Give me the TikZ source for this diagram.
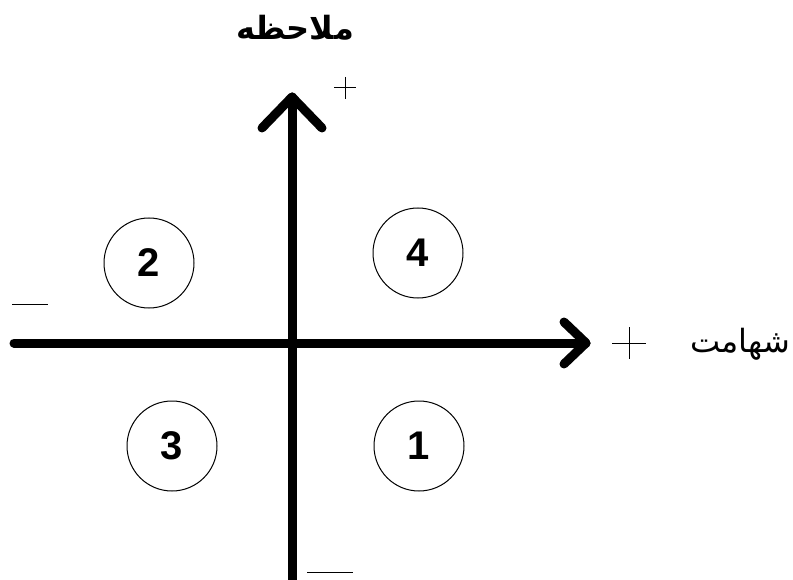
\documentclass[tikz,border=0pt]{standalone}
\usepackage{fontspec}
\setmainfont{Liberation Sans}
\newfontfamily\arabicfont[Script=Arabic]{DejaVu Sans}
\TeXXeTstate=1
\begin{document}
\begin{tikzpicture}[x=1pt,y=-1pt,
  axis/.style={line width=9pt,line cap=round,line join=round},
  sign/.style={line width=1pt},
  quad/.style={circle,draw,line width=1pt,minimum size=90pt,inner sep=0pt,font=\fontsize{40}{40}\selectfont\bfseries},
  lbl/.style={inner sep=0pt,font=\fontsize{32}{32}\selectfont\arabicfont}]
\useasboundingbox (0,0) rectangle (793,580);
\coordinate (xl) at (14,343);
\coordinate (xr) at (586,343);
\coordinate (yb) at (292,590);
\coordinate (yt) at (292,97);
\draw[axis] (xl) -- (xr);
\draw[axis] (yb) -- (yt);
\draw[axis] (564,322) -- (xr) -- (564,364);
\draw[axis] (262,128) -- (yt) -- (322,128);
% signs
\draw[sign] (334,88) -- (356,88) (345,77) -- (345,99);
\draw[sign] (12,305) -- (48,305);
\draw[sign] (612,343) -- (646,343) (629,327) -- (629,359);
\draw[sign] (307,572) -- (353,572);
% labels
\node[lbl] (yl) at (295,28) {\bfseries\beginR ملاحظه\endR};
\node[lbl] (xlab) at (740,344) {\beginR شهامت\endR};
% quadrants
\node[quad] (q2) at (149,263) {2};
\node[quad] (q4) at (418,253) {4};
\node[quad] (q3) at (172,446) {3};
\node[quad] (q1) at (419,446) {1};
\end{tikzpicture}
\end{document}
